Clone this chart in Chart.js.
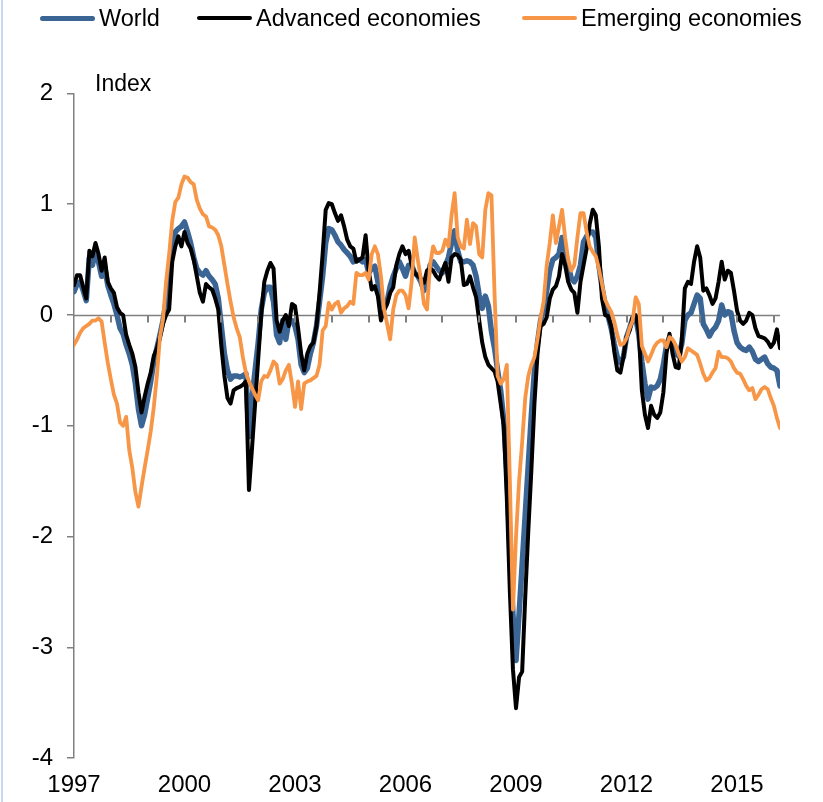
<!DOCTYPE html>
<html>
<head>
<meta charset="utf-8">
<script src="https://cdn.jsdelivr.net/npm/chart.js@4.4.1/dist/chart.umd.min.js"></script>
<style>
  html, body { margin: 0; padding: 0; background: #fff; }
  #wrap { position: relative; width: 823px; height: 802px; overflow: hidden; font-family: "Liberation Sans", Arial, sans-serif; }
  canvas { position: absolute; left: 0; top: 0; }
  #edge { position: absolute; left: 1px; top: 0; width: 2px; height: 802px; background: #c6d9f1; }
  .item { position: absolute; top: 4px; height: 28px; display: flex; align-items: center; font-size: 23.5px; color: #000; white-space: nowrap; }
  .swatch { display: inline-block; width: 55px; border-radius: 3px; margin-right: 4px; }
  #unit { position: absolute; left: 95px; top: 70px; font-size: 23px; color: #000; }
</style>
</head>
<body>
<div id="wrap">
  <canvas id="chart" width="823" height="802"></canvas>
  <div id="edge"></div>
  <div id="legend"></div>
  <div id="unit">Index</div>
</div>
<script>
// monthly series, Jan 1997 .. Mar 2016
const startYear = 1997;
const labelYears = [1997, 2000, 2003, 2006, 2009, 2012, 2015];
const seriesNames = ['World', 'Advanced economies', 'Emerging economies'];

const world = [
  0.21, 0.28, 0.30, 0.22, 0.13, 0.52, 0.45, 0.58, 0.48, 0.35, 0.43, 0.27,
  0.18, 0.10, 0.00, -0.12, -0.17, -0.27, -0.35, -0.45, -0.62, -0.85, -1.00, -0.90,
  -0.75, -0.60, -0.42, -0.30, -0.18, -0.05, 0.12, 0.38, 0.60, 0.75, 0.78, 0.80,
  0.84, 0.75, 0.65, 0.52, 0.42, 0.38, 0.36, 0.40, 0.35, 0.32, 0.28, 0.15,
  -0.10, -0.35, -0.50, -0.58, -0.55, -0.55, -0.56, -0.55, -0.53, -1.10, -0.75, -0.50,
  -0.25, 0.05, 0.20, 0.25, 0.25, 0.12, -0.18, -0.25, -0.05, -0.22, -0.05, -0.05,
  -0.10, -0.22, -0.45, -0.52, -0.48, -0.35, -0.25, -0.10, 0.12, 0.35, 0.65, 0.78,
  0.77, 0.72, 0.66, 0.63, 0.59, 0.56, 0.53, 0.48, 0.50, 0.50, 0.48, 0.50,
  0.38, 0.42, 0.44, 0.30, 0.12, 0.05, 0.12, 0.26, 0.35, 0.42, 0.48, 0.42,
  0.35, 0.45, 0.45, 0.38, 0.35, 0.30, 0.22, 0.30, 0.45, 0.48, 0.44, 0.40,
  0.38, 0.45, 0.52, 0.65, 0.76, 0.58, 0.48, 0.48, 0.49, 0.48, 0.45, 0.35,
  0.18, 0.06, 0.17, 0.08, -0.15, -0.30, -0.50, -0.68, -0.95, -1.40, -2.10, -2.70,
  -3.12, -2.70, -2.25, -1.80, -1.35, -0.90, -0.50, -0.25, -0.05, 0.05, 0.22, 0.40,
  0.50, 0.52, 0.55, 0.70, 0.58, 0.45, 0.33, 0.30, 0.35, 0.45, 0.66, 0.71,
  0.75, 0.75, 0.70, 0.45, 0.25, 0.10, -0.01, -0.12, -0.26, -0.38, -0.43, -0.38,
  -0.20, -0.12, -0.03, -0.02, -0.18, -0.42, -0.62, -0.76, -0.65, -0.66, -0.64, -0.58,
  -0.45, -0.28, -0.20, -0.30, -0.35, -0.37, -0.26, -0.05, 0.00, 0.02, 0.10, 0.18,
  0.15, -0.08, -0.13, -0.19, -0.14, -0.11, -0.05, 0.09, 0.00, 0.03, 0.02, -0.14,
  -0.25, -0.29, -0.31, -0.32, -0.29, -0.33, -0.40, -0.42, -0.40, -0.38, -0.44, -0.47,
  -0.48, -0.50, -0.64
];

const advanced = [
  0.27, 0.36, 0.36, 0.25, 0.15, 0.58, 0.53, 0.65, 0.55, 0.40, 0.52, 0.30,
  0.24, 0.20, 0.07, 0.02, 0.00, -0.18, -0.27, -0.35, -0.47, -0.70, -0.88, -0.74,
  -0.62, -0.52, -0.37, -0.30, -0.20, -0.08, 0.00, 0.05, 0.48, 0.62, 0.71, 0.62,
  0.75, 0.65, 0.60, 0.50, 0.35, 0.20, 0.12, 0.28, 0.25, 0.23, 0.15, 0.05,
  -0.28, -0.55, -0.75, -0.80, -0.68, -0.66, -0.65, -0.63, -0.60, -1.58, -1.20, -0.80,
  -0.40, 0.00, 0.30, 0.40, 0.47, 0.42, -0.05, -0.15, -0.05, 0.00, -0.10, 0.10,
  0.08, -0.12, -0.35, -0.50, -0.35, -0.28, -0.25, -0.10, 0.20, 0.55, 0.95, 1.01,
  1.00, 0.92, 0.85, 0.90, 0.80, 0.68, 0.62, 0.60, 0.48, 0.50, 0.52, 0.72,
  0.40, 0.23, 0.26, 0.17, -0.05, 0.05, 0.10, 0.20, 0.25, 0.45, 0.55, 0.62,
  0.55, 0.58, 0.45, 0.38, 0.35, 0.33, 0.29, 0.40, 0.42, 0.40, 0.35, 0.32,
  0.40, 0.47, 0.30, 0.52, 0.55, 0.54, 0.50, 0.27, 0.28, 0.35, 0.25, 0.16,
  -0.05, -0.25, -0.38, -0.45, -0.48, -0.51, -0.60, -0.80, -1.00, -1.65, -2.50, -3.20,
  -3.55, -3.27, -3.22, -2.55, -1.95, -1.40, -0.80, -0.35, -0.10, -0.08, -0.02, 0.15,
  0.23, 0.26, 0.35, 0.55, 0.45, 0.30, 0.23, 0.20, 0.02, 0.30, 0.45, 0.60,
  0.82, 0.95, 0.90, 0.62, 0.15, 0.00, -0.01, -0.10, -0.33, -0.50, -0.52, -0.38,
  -0.20, -0.14, -0.02, 0.00, -0.15, -0.68, -0.90, -1.02, -0.82, -0.90, -0.93, -0.88,
  -0.70, -0.35, -0.17, -0.35, -0.47, -0.48, -0.23, 0.24, 0.30, 0.28, 0.48, 0.62,
  0.52, 0.22, 0.24, 0.18, 0.10, 0.15, 0.30, 0.48, 0.32, 0.40, 0.38, 0.22,
  0.04, -0.05, -0.08, -0.05, 0.02, 0.00, -0.12, -0.19, -0.20, -0.21, -0.24, -0.29,
  -0.25, -0.13, -0.30
];

const emerging = [
  -0.27, -0.22, -0.16, -0.12, -0.10, -0.08, -0.05, -0.05, -0.03, -0.06, -0.25, -0.43,
  -0.58, -0.72, -0.80, -0.97, -1.00, -0.92, -1.22, -1.38, -1.60, -1.73, -1.55, -1.38,
  -1.22, -1.05, -0.83, -0.55, -0.20, -0.04, 0.30, 0.55, 0.85, 1.02, 1.06, 1.18,
  1.25, 1.24, 1.20, 1.18, 1.04, 0.96, 0.91, 0.89, 0.80, 0.79, 0.77, 0.72,
  0.62, 0.45, 0.28, 0.12, -0.02, -0.12, -0.20, -0.38, -0.52, -0.60, -0.66, -0.72,
  -0.77, -0.60, -0.55, -0.56, -0.50, -0.42, -0.45, -0.62, -0.58, -0.50, -0.45, -0.62,
  -0.83, -0.60, -0.85, -0.62, -0.60, -0.59, -0.57, -0.55, -0.45, -0.14, -0.10, 0.11,
  0.05, 0.10, 0.12, 0.02, 0.06, 0.08, 0.12, 0.10, 0.38, 0.36, 0.36, 0.38,
  0.32, 0.55, 0.62, 0.55, 0.35, 0.05, -0.08, -0.22, 0.05, 0.18, 0.22, 0.22,
  0.18, 0.06, 0.30, 0.70, 0.50, 0.33, 0.10, 0.05, 0.45, 0.62, 0.56, 0.56,
  0.58, 0.68, 0.62, 0.90, 1.10, 0.70, 0.62, 0.60, 0.86, 0.64, 0.83, 0.80,
  0.55, 0.52, 0.95, 1.10, 1.08, 0.20, -0.55, -0.62, -0.58, -0.45, -1.50, -2.66,
  -2.00, -1.50, -1.15, -0.75, -0.55, -0.45, -0.38, -0.22, -0.03, 0.12, 0.45, 0.65,
  0.90, 0.65, 0.80, 0.95, 0.70, 0.50, 0.40, 0.45, 0.70, 0.92, 0.92, 0.75,
  0.62, 0.57, 0.53, 0.42, 0.28, 0.14, 0.08, 0.03, -0.06, -0.18, -0.27, -0.26,
  -0.21, -0.12, -0.05, 0.16, 0.10, -0.28, -0.35, -0.42, -0.36, -0.29, -0.25, -0.23,
  -0.23, -0.29, -0.20, -0.22, -0.27, -0.35, -0.42, -0.38, -0.30, -0.32, -0.34, -0.36,
  -0.44, -0.53, -0.59, -0.57, -0.52, -0.48, -0.33, -0.38, -0.38, -0.39, -0.42, -0.48,
  -0.52, -0.53, -0.58, -0.64, -0.68, -0.66, -0.76, -0.72, -0.67, -0.65, -0.67, -0.75,
  -0.82, -0.93, -1.02
];

const colors = ['#3a6595', '#000000', '#f79646'];
const widths = [5.5, 4, 3.8];
const legendLeft = [40, 197, 522];
const axisGray = '#808080';
const font = { family: '"Liberation Sans", Arial, sans-serif', size: 24 };

const endX = startYear + (world.length - 1) / 12;
const toPoints = arr => arr.map((v, i) => ({ x: startYear + i / 12, y: v }));

// legend
const legendEl = document.getElementById('legend');
seriesNames.forEach((name, i) => {
  const item = document.createElement('div');
  item.className = 'item';
  item.style.left = legendLeft[i] + 'px';
  const sw = document.createElement('span');
  sw.className = 'swatch';
  sw.style.height = (i === 0 ? 5 : 4) + 'px';
  sw.style.background = colors[i];
  item.appendChild(sw);
  item.appendChild(document.createTextNode(name));
  legendEl.appendChild(item);
});

// zero line with a tick mark under every year
const zeroAxis = {
  id: 'zeroAxis',
  beforeDatasetsDraw(chart) {
    const { ctx, scales, chartArea } = chart;
    const y0 = Math.round(scales.y.getPixelForValue(0)) + 0.5;
    ctx.save();
    ctx.strokeStyle = axisGray;
    ctx.lineWidth = 1.5;
    ctx.beginPath();
    ctx.moveTo(chartArea.left, y0);
    ctx.lineTo(chartArea.right, y0);
    ctx.stroke();
    ctx.restore();
  },
  afterDraw(chart) {
    const { ctx, scales } = chart;
    const xs = scales.x;
    const y0 = Math.round(scales.y.getPixelForValue(0)) + 0.5;
    ctx.save();
    ctx.fillStyle = axisGray;
    for (let yr = startYear + 1; yr <= endX; yr++) {
      const px = Math.round(xs.getPixelForValue(yr));
      ctx.fillRect(px - 1, y0, 2, 7);
    }
    ctx.restore();
  }
};

new Chart(document.getElementById('chart'), {
  type: 'line',
  data: {
    datasets: [
      { label: seriesNames[0], data: toPoints(world), borderColor: colors[0], borderWidth: widths[0], order: 3 },
      { label: seriesNames[1], data: toPoints(advanced), borderColor: colors[1], borderWidth: widths[1], order: 2 },
      { label: seriesNames[2], data: toPoints(emerging), borderColor: colors[2], borderWidth: widths[2], order: 1 }
    ]
  },
  options: {
    responsive: false,
    animation: false,
    elements: {
      point: { radius: 0 },
      line: { tension: 0, borderJoinStyle: 'round', borderCapStyle: 'round', fill: false }
    },
    layout: { padding: { top: 93.5, right: 43, bottom: 0, left: 0 } },
    plugins: { legend: { display: false }, tooltip: { enabled: false } },
    scales: {
      x: {
        type: 'linear', position: 'bottom', min: startYear, max: endX,
        ticks: {
          stepSize: 1, autoSkip: false, maxRotation: 0, includeBounds: false,
          padding: 5, color: '#000', font,
          callback: v => labelYears.includes(v) ? String(v) : ''
        },
        grid: { display: false },
        border: { display: false },
        afterFit: s => { s.height = 44; }
      },
      y: {
        min: -4, max: 2,
        ticks: { stepSize: 1, padding: 14, color: '#000', font },
        grid: { drawOnChartArea: false, tickLength: 7, color: axisGray, lineWidth: 1.5 },
        border: { color: axisGray, width: 1.5 },
        afterFit: s => { s.width = 74; }
      }
    }
  },
  plugins: [zeroAxis]
});
</script>
</body>
</html>
